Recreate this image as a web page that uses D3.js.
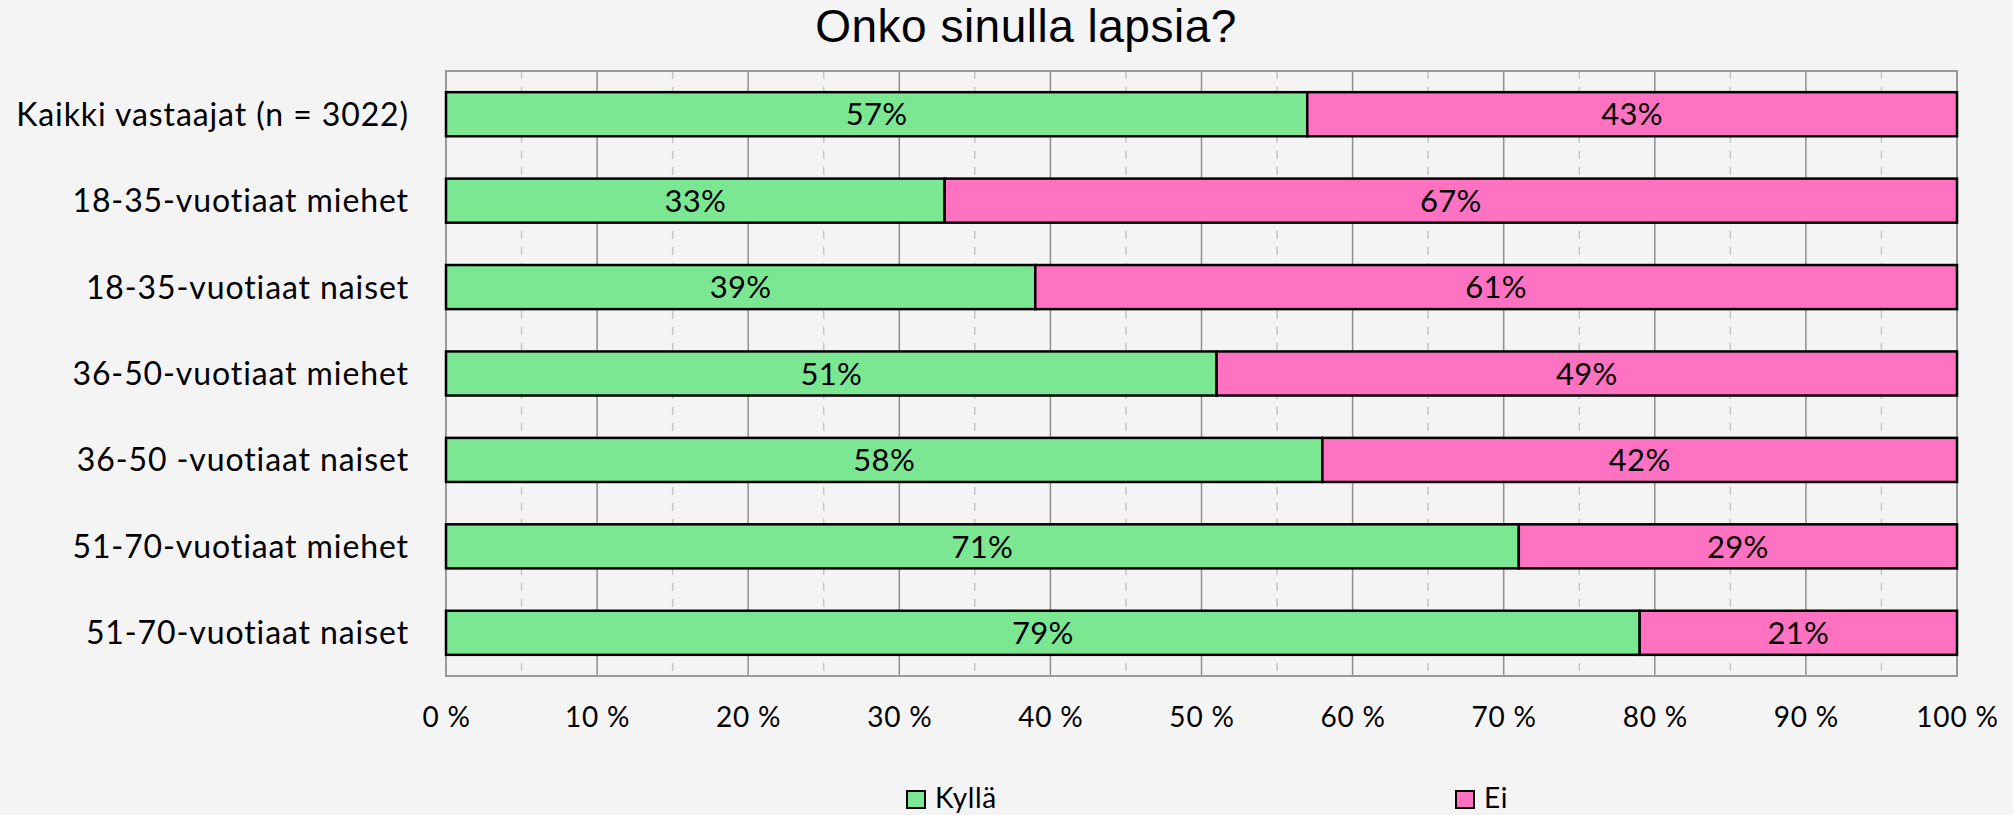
<!DOCTYPE html>
<html>
<head>
<meta charset="utf-8">
<script src="https://cdn.jsdelivr.net/npm/d3@7"></script>
<style>
  html, body { margin: 0; padding: 0; background: #f4f4f4; }
  svg { display: block; }
</style>
</head>
<body>
<svg id="chart" width="2013" height="815"></svg>
<script>
const title = "Onko sinulla lapsia?";
const categories = [
  "Kaikki vastaajat (n = 3022)",
  "18-35-vuotiaat miehet",
  "18-35-vuotiaat naiset",
  "36-50-vuotiaat miehet",
  "36-50 -vuotiaat naiset",
  "51-70-vuotiaat miehet",
  "51-70-vuotiaat naiset"
];
const seriesNames = ["Kyllä", "Ei"];
const kylla = [57, 33, 39, 51, 58, 71, 79];
const ei = [43, 67, 61, 49, 42, 29, 21];
const tickValues = [0, 10, 20, 30, 40, 50, 60, 70, 80, 90, 100];
const colors = ["#7be793", "#ff71c1"];

const svg = d3.select("#chart");
const W = 2013, H = 815;
const m = { left: 446, right: W - 1957, top: 71, bottom: H - 676 };

svg.append("rect").attr("width", W).attr("height", H).attr("fill", "#f4f4f4");

const x = d3.scaleLinear().domain([0, 100]).range([m.left, W - m.right]);
const y = d3.scaleBand().domain(categories).range([m.top, H - m.bottom]).paddingInner(0.49).paddingOuter(0.245);

const labelFont = "Lato, 'Open Sans', sans-serif";

// minor dashed gridlines (5%)
const minor = d3.range(5, 100, 10);
svg.append("g").selectAll("line").data(minor).join("line")
  .attr("x1", d => x(d)).attr("x2", d => x(d))
  .attr("y1", m.top).attr("y2", H - m.bottom)
  .attr("stroke", "#c6c6c6").attr("stroke-width", 1.5).attr("stroke-dasharray", "8,8");

// major gridlines
svg.append("g").selectAll("line").data(tickValues).join("line")
  .attr("x1", d => x(d)).attr("x2", d => x(d))
  .attr("y1", m.top).attr("y2", H - m.bottom)
  .attr("stroke", "#8f8f8f").attr("stroke-width", 1.5);

// plot border
svg.append("rect")
  .attr("x", x(0)).attr("y", m.top)
  .attr("width", x(100) - x(0)).attr("height", H - m.bottom - m.top)
  .attr("fill", "none").attr("stroke", "#999").attr("stroke-width", 2);

// stacked data
const rows = categories.map((c, i) => ({ cat: c, Kyllä: kylla[i], Ei: ei[i] }));
const stack = d3.stack().keys(seriesNames)(rows);

const groups = svg.append("g").selectAll("g").data(stack).join("g")
  .attr("fill", (d, i) => colors[i]);

groups.selectAll("rect").data(d => d).join("rect")
  .attr("x", d => x(d[0]))
  .attr("y", d => y(d.data.cat))
  .attr("width", d => x(d[1]) - x(d[0]))
  .attr("height", y.bandwidth())
  .attr("stroke", "#000").attr("stroke-width", 2.5);

groups.selectAll("text").data(d => d).join("text")
  .attr("x", d => (x(d[0]) + x(d[1])) / 2)
  .attr("y", d => y(d.data.cat) + y.bandwidth() / 2)
  .attr("dy", "0.36em")
  .attr("text-anchor", "middle")
  .attr("fill", "#000")
  .attr("font-family", labelFont).attr("font-size", 31).attr("letter-spacing", "0.3px")
  .text(d => (d[1] - d[0]) + "%");

// y axis labels
const yAxis = d3.axisLeft(y).tickSize(0).tickPadding(37);
const gy = svg.append("g").attr("transform", `translate(${m.left},0)`).call(yAxis);
gy.select(".domain").remove();
gy.selectAll("text").attr("font-family", labelFont).attr("font-size", 32).attr("letter-spacing", "0.9px")
  .attr("fill", "#000").attr("dy", "0.36em");

// x axis labels
const xAxis = d3.axisBottom(x).tickValues(tickValues).tickSize(0).tickPadding(31).tickFormat(d => d + " %");
const gx = svg.append("g").attr("transform", `translate(0,${H - m.bottom})`).call(xAxis);
gx.select(".domain").remove();
gx.selectAll("text").attr("font-family", labelFont).attr("font-size", 28).attr("letter-spacing", "0.8px").attr("fill", "#000");

// title
svg.append("text").attr("x", 1026).attr("y", 42).attr("text-anchor", "middle")
  .attr("font-family", "'Liberation Sans', Arial, sans-serif").attr("font-size", 46).attr("letter-spacing", "0.5px").attr("fill", "#000")
  .text(title);

// legend
const legendX = [907, 1456];
const lg = svg.append("g").selectAll("g").data(seriesNames).join("g")
  .attr("transform", (d, i) => `translate(${legendX[i]},791)`);
lg.append("rect").attr("width", 18).attr("height", 17)
  .attr("fill", (d, i) => colors[i]).attr("stroke", "#000").attr("stroke-width", 2);
lg.append("text").attr("x", 28).attr("y", 17).attr("font-family", labelFont).attr("font-size", 28).attr("letter-spacing", "0.6px").attr("fill", "#000")
  .text(d => d);
</script>
</body>
</html>
